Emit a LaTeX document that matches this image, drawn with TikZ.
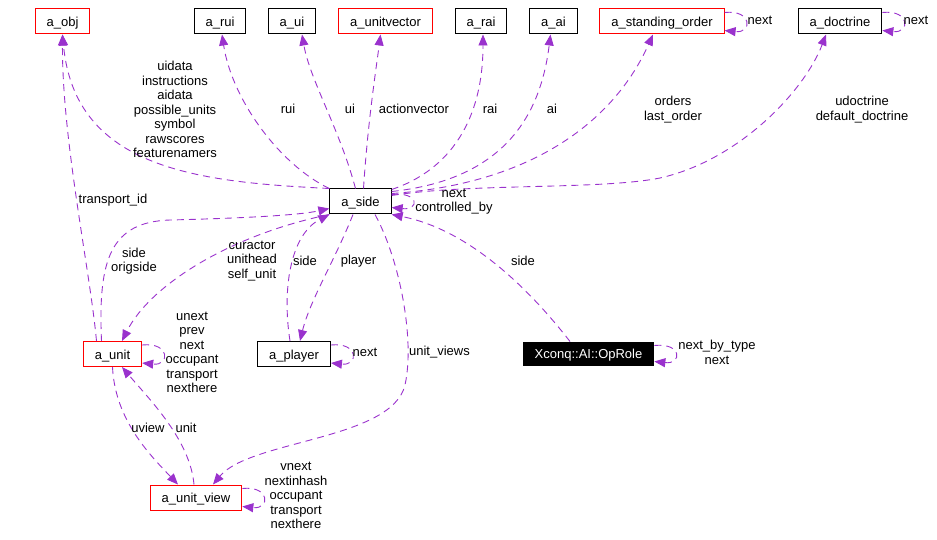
\documentclass[tikz,border=0pt]{standalone}
\usepackage{fontspec}
\setmainfont{Liberation Sans}
\usetikzlibrary{arrows.meta}
\definecolor{memclr}{HTML}{9A32CD}

\begin{document}
\begin{tikzpicture}[x=1pt,y=-1pt,font=\fontsize{13}{14.5}\selectfont,>={Triangle[length=11pt,width=9pt]},
 cls/.style={draw,line width=1pt,minimum height=25pt,inner xsep=11.5pt,inner ysep=0pt,text height=11pt,text depth=1pt},
 redcls/.style={cls,draw=red},
 mem/.style={->,memclr,line width=.9pt,dash pattern=on 7pt off 5pt},
 lbl/.style={align=center,inner sep=0pt}]
\useasboundingbox (0,0) rectangle (937,540);
% classes
\node[redcls] (obj) at (62.5,21.5) {a\_obj};
\node[cls] (rui) at (220,21.5) {a\_rui};
\node[cls] (ui) at (292,21.5) {a\_ui};
\node[redcls] (uvec) at (385.5,21.5) {a\_unitvector};
\node[cls] (rai) at (481,21.5) {a\_rai};
\node[cls] (ai) at (553.5,21.5) {a\_ai};
\node[redcls] (sord) at (662,21.5) {a\_standing\_order};
\node[cls] (doct) at (840,21.5) {a\_doctrine};
\node[cls] (side) at (360.5,201.5) {a\_side};
\node[redcls] (unit) at (112.5,354) {a\_unit};
\node[cls] (plyr) at (294,354) {a\_player};
\node[redcls] (uview) at (196,497.5) {a\_unit\_view};
\node[cls,fill=black,text=white,minimum height=23pt] (oprole) at (588.5,353.5) {Xconq::AI::OpRole};
% members of a_side, upwards
\draw[mem] (side.north west) .. controls (200,182) and (75,170) .. (obj.south);
\draw[mem] (side.north west) .. controls (280,165) and (232,100) .. ([xshift=2pt]rui.south);
\draw[mem] ([xshift=-5pt]side.north) .. controls (340,130) and (310,80) .. ([xshift=10pt]ui.south);
\draw[mem] ([xshift=3pt]side.north) .. controls (368,120) and (376,70) .. ([xshift=-5pt]uvec.south);
\draw[mem] ([yshift=-1pt]side.north east) .. controls (450,170) and (483,120) .. ([xshift=2pt]rai.south);
\draw[mem] ([yshift=-3pt]side.north east) .. controls (500,180) and (540,120) .. ([xshift=-3pt]ai.south);
\draw[mem] ([yshift=-5pt]side.north east) .. controls (520,185) and (610,130) .. ([xshift=-9pt]sord.south);
\draw[mem] ([yshift=-7pt]side.north east) .. controls (470,183) and (600,190) .. (660,178) .. controls (740,160) and (805,90) .. ([xshift=-14pt]doct.south);
\draw[mem] ([yshift=-6pt]side.north east) .. controls +(28,-3) and +(28,3) .. ([yshift=7pt]side.south east);
% lower part
\draw[mem] ([xshift=-16pt]unit.north) .. controls (90,270) and (62,140) .. (obj.south);
\draw[mem] ([xshift=-11pt]unit.north) .. controls (98,260) and (110,222) .. (170,220) .. controls (250,218) and (300,215) .. ([yshift=6pt]side.south west);
\draw[mem] (side.south west) .. controls (230,235) and (150,285) .. ([xshift=9.5pt]unit.north);
\draw[mem] ([xshift=-4pt]plyr.north) .. controls (282,290) and (290,235) .. (side.south west);
\draw[mem] ([xshift=-7.5pt]side.south) .. controls (335,260) and (310,300) .. ([xshift=6pt]plyr.north);
\draw[mem] ([xshift=14.5pt]side.south) .. controls (400,260) and (415,340) .. (405,385) .. controls (392,440) and (250,440) .. ([xshift=17pt]uview.north);
\draw[mem] ([xshift=-18.5pt]oprole.north) .. controls (530,290) and (470,230) .. (side.south east);
\draw[mem] (unit.south) .. controls (115,420) and (150,455) .. ([xshift=-18pt]uview.north);
\draw[mem] ([xshift=-2pt]uview.north) .. controls (190,440) and (150,400) .. ([xshift=9.5pt]unit.south);
\foreach \n in {sord,doct,unit,plyr,uview,oprole}{\draw[mem] ([yshift=-4pt]\n.north east) .. controls +(28,-3) and +(28,3) .. ([yshift=4pt]\n.south east);}
% labels
\node[lbl] at (175,109.5) {uidata\\instructions\\aidata\\possible\_units\\symbol\\rawscores\\featurenamers};
\node[lbl] at (288,109) {rui};
\node[lbl] at (350,109) {ui};
\node[lbl] at (414,109) {actionvector};
\node[lbl] at (490,109) {rai};
\node[lbl] at (552,109) {ai};
\node[lbl] at (673,109.5) {orders\\last\_order};
\node[lbl] at (862,109.5) {udoctrine\\default\_doctrine};
\node[lbl] at (760,20) {next};
\node[lbl] at (916,20) {next};
\node[lbl] at (454,201.5) {next\\controlled\_by};
\node[lbl] at (113,200) {transport\_id};
\node[lbl] at (134,261) {side\\origside};
\node[lbl] at (252,261) {curactor\\unithead\\self\_unit};
\node[lbl] at (305,261) {side};
\node[lbl] at (358.5,261) {player};
\node[lbl] at (523,261) {side};
\node[lbl] at (439.5,352) {unit\_views};
\node[lbl] at (192,352.5) {unext\\prev\\next\\occupant\\transport\\nexthere};
\node[lbl] at (365,352) {next};
\node[lbl] at (717,352.5) {next\_by\_type\\next};
\node[lbl] at (148,428) {uview};
\node[lbl] at (186,428) {unit};
\node[lbl] at (296,495.5) {vnext\\nextinhash\\occupant\\transport\\nexthere};
\end{tikzpicture}
\end{document}
